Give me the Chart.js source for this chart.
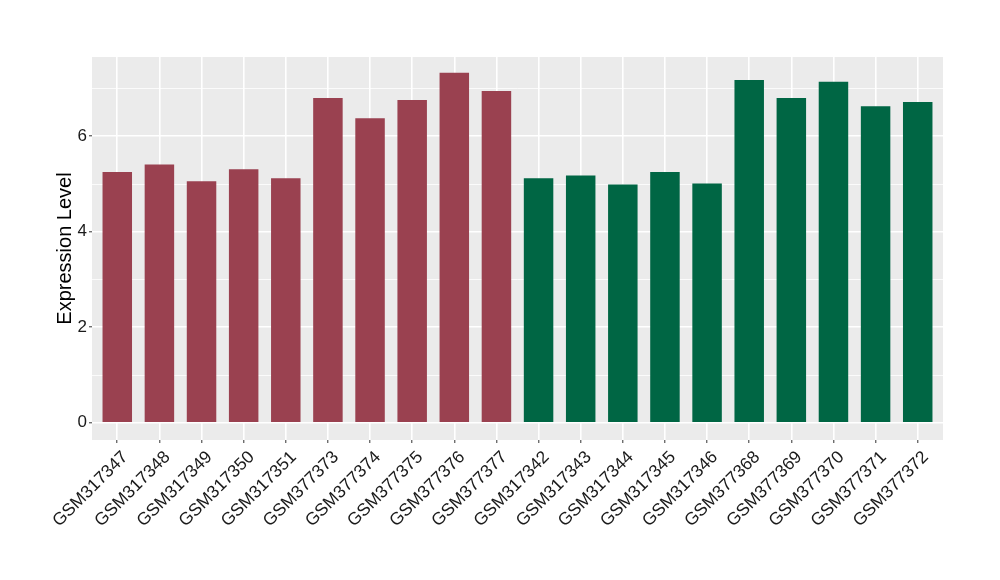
<!DOCTYPE html>
<html>
<head>
<meta charset="utf-8">
<script src="https://cdn.jsdelivr.net/npm/chart.js@4"></script>
<style>
  html, body { margin: 0; padding: 0; background: #fff; }
  #wrap { width: 1000px; height: 580px; }
</style>
</head>
<body>
<div id="wrap"><canvas id="chart" width="1000" height="580"></canvas></div>
<script>
// sample names
const samples = ['GSM317347','GSM317348','GSM317349','GSM317350','GSM317351',
  'GSM377373','GSM377374','GSM377375','GSM377376','GSM377377',
  'GSM317342','GSM317343','GSM317344','GSM317345','GSM317346',
  'GSM377368','GSM377369','GSM377370','GSM377371','GSM377372'];
// expression values
const values = [5.25, 5.41, 5.06, 5.31, 5.12, 6.80, 6.38, 6.76, 7.33, 6.95,
  5.12, 5.18, 4.99, 5.25, 5.01, 7.18, 6.80, 7.14, 6.63, 6.72];
// group of each sample
const groups = ['A','A','A','A','A','A','A','A','A','A',
  'B','B','B','B','B','B','B','B','B','B'];
const yTicks = [0, 1, 2, 3, 4, 5, 6, 7];

const groupColor = { A: '#9A4150', B: '#006644' };

// gray panel like ggplot
const panelBg = {
  id: 'panelBg',
  beforeDraw(chart) {
    const a = chart.chartArea, c = chart.ctx;
    c.save();
    c.fillStyle = '#EBEBEB';
    c.fillRect(a.left, a.top, a.right - a.left, a.bottom - a.top);
    c.restore();
  }
};

new Chart(document.getElementById('chart'), {
  type: 'bar',
  data: {
    datasets: [{
      data: values.map((v, i) => ({ x: i, y: v })),
      backgroundColor: groups.map(g => groupColor[g]),
      categoryPercentage: 1,
      barPercentage: 0.7
    }]
  },
  options: {
    responsive: false,
    animation: false,
    layout: { padding: { top: 57, right: 57, left: 0, bottom: 0 } },
    plugins: { legend: { display: false }, tooltip: { enabled: false } },
    scales: {
      x: {
        type: 'linear',
        offset: false,
        min: -0.6,
        max: samples.length - 0.4,
        afterBuildTicks: s => { s.ticks = samples.map((_, i) => ({ value: i })); },
        afterFit: s => { s.height = 140; },
        border: { display: false },
        grid: { offset: false, color: '#FFFFFF', lineWidth: 1.6, tickLength: 3, tickColor: '#333333', tickWidth: 1 },
        ticks: {
          autoSkip: false,
          maxRotation: 45,
          minRotation: 45,
          padding: 4,
          labelOffset: 8,
          color: '#1A1A1A',
          font: { family: 'Liberation Sans, Arial, sans-serif', size: 17.5 },
          callback: v => samples[v]
        }
      },
      y: {
        min: -0.36,
        max: 7.66,
        afterBuildTicks: s => { s.ticks = yTicks.map(v => ({ value: v })); },
        afterFit: s => { s.width = 92; },
        border: { display: false },
        grid: {
          color: '#FFFFFF',
          lineWidth: ctx => (ctx.tick && ctx.tick.value % 2 === 0) ? 1.6 : 0.8,
          tickLength: 3,
          tickColor: ctx => (ctx.tick && ctx.tick.value % 2 === 0) ? '#333333' : 'rgba(0,0,0,0)',
          tickWidth: 1
        },
        ticks: {
          padding: 2,
          color: '#1A1A1A',
          font: { family: 'Liberation Sans, Arial, sans-serif', size: 17 },
          callback: v => (v % 2 === 0 ? String(v) : '')
        },
        title: {
          display: true,
          text: 'Expression Level',
          color: '#000000',
          padding: { top: 53, bottom: 0 },
          font: { family: 'Liberation Sans, Arial, sans-serif', size: 20 }
        }
      }
    }
  },
  plugins: [panelBg]
});
</script>
</body>
</html>
